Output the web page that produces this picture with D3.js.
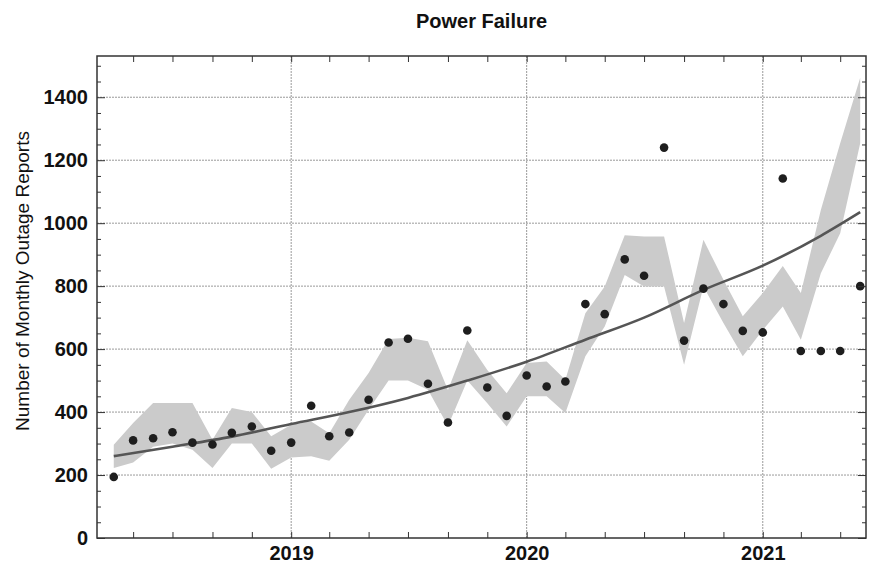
<!DOCTYPE html>
<html>
<head>
<meta charset="utf-8">
<script src="https://cdn.jsdelivr.net/npm/d3@7"></script>
<style>
  body { margin: 0; background: #fff; }
  text { font-family: "Liberation Sans", Arial, sans-serif; }
</style>
</head>
<body>
<div id="my_dataviz"></div>
<script>

// monthly report counts
var months = ["2018-04", "2018-05", "2018-06", "2018-07", "2018-08", "2018-09", "2018-10", "2018-11", "2018-12",
  "2019-01", "2019-02", "2019-03", "2019-04", "2019-05", "2019-06", "2019-07", "2019-08", "2019-09", "2019-10", "2019-11", "2019-12",
  "2020-01", "2020-02", "2020-03", "2020-04", "2020-05", "2020-06", "2020-07", "2020-08", "2020-09", "2020-10", "2020-11", "2020-12",
  "2021-01", "2021-02", "2021-03", "2021-04", "2021-05", "2021-06"];
var reports = [194, 310, 317, 336, 303, 297, 334, 354, 277,
  303, 420, 323, 335, 439, 621, 633, 490, 367, 659, 478, 388,
  516, 481, 497, 743, 711, 885, 833, 1240, 627, 792, 743, 658,
  653, 1142, 594, 594, 594, 800];

// shaded band, upper and lower edge per month
var bandUpper = [296, 365, 429, 429, 429, 312, 413, 400, 323,
  360, 370, 333, 439, 524, 632, 636, 625, 470, 628, 534, 460,
  556, 561, 503, 714, 799, 962, 958, 958, 683, 947, 820, 704,
  778, 864, 778, 1042, 1254, 1462];
var bandLower = [222, 240, 290, 300, 280, 222, 300, 300, 220,
  256, 260, 245, 312, 407, 500, 500, 471, 356, 500, 428, 354,
  450, 450, 397, 577, 672, 835, 799, 799, 550, 799, 683, 577,
  661, 735, 630, 841, 968, 1254];

// fitted trend, read at a few dates
var trendMonths = ["2018-04", "2018-07", "2018-10", "2019-01", "2019-04", "2019-07", "2019-10",
  "2020-01", "2020-04", "2020-07", "2020-10", "2021-01", "2021-04", "2021-06"];
var trendValues = [260, 290, 322, 362, 400, 445, 500, 560, 630, 700, 788, 865, 960, 1035];

var yTicks = [0, 200, 400, 600, 800, 1000, 1200, 1400];
var xYears = ["2019", "2020", "2021"];

var W = 870, H = 563;
var margin = { top: 56, right: 4, bottom: 25, left: 97 },
  width = W - margin.left - margin.right,
  height = H - margin.top - margin.bottom;

var parseM = d3.timeParse("%Y-%m");
var parseY = d3.timeParse("%Y");

var svg = d3.select("#my_dataviz")
  .append("svg")
  .attr("width", W)
  .attr("height", H);

var g = svg.append("g")
  .attr("transform", "translate(" + margin.left + "," + margin.top + ")");

var x = d3.scaleTime()
  .domain([new Date(2018, 2, 6), new Date(2021, 5, 10)])
  .range([0, width]);
var y = d3.scaleLinear()
  .domain([0, 1531])
  .range([height, 0]);

var monthTicks = d3.timeMonth.every(2).range(x.domain()[0], x.domain()[1]);
var minorY = d3.range(50, 1531, 50).filter(function (v) { return v % 200 != 0; });
var yearDates = xYears.map(parseY);

// grid
g.append("g").selectAll("line")
  .data(yTicks.slice(1))
  .enter().append("line")
  .attr("x1", 0).attr("x2", width)
  .attr("y1", function (d) { return y(d); })
  .attr("y2", function (d) { return y(d); })
  .attr("stroke", "#9a9a9a")
  .attr("stroke-width", 1)
  .attr("stroke-dasharray", "2,1");
g.append("g").selectAll("line")
  .data(yearDates)
  .enter().append("line")
  .attr("y1", 0).attr("y2", height)
  .attr("x1", function (d) { return x(d); })
  .attr("x2", function (d) { return x(d); })
  .attr("stroke", "#9a9a9a")
  .attr("stroke-width", 1)
  .attr("stroke-dasharray", "2,1");

// band
var band = months.map(function (m, i) {
  return { date: parseM(m), hi: bandUpper[i], lo: bandLower[i] };
});
g.append("path")
  .datum(band)
  .attr("fill", "#cbcbcb")
  .attr("d", d3.area()
    .x(function (d) { return x(d.date); })
    .y0(function (d) { return y(d.lo); })
    .y1(function (d) { return y(d.hi); }));

// trend
var trend = trendMonths.map(function (m, i) {
  return { date: parseM(m), v: trendValues[i] };
});
g.append("path")
  .datum(trend)
  .attr("fill", "none")
  .attr("stroke", "#555")
  .attr("stroke-width", 2.6)
  .attr("d", d3.line()
    .curve(d3.curveMonotoneX)
    .x(function (d) { return x(d.date); })
    .y(function (d) { return y(d.v); }));

// points
g.append("g").selectAll("circle")
  .data(months.map(function (m, i) { return { date: parseM(m), v: reports[i] }; }))
  .enter().append("circle")
  .attr("cx", function (d) { return x(d.date); })
  .attr("cy", function (d) { return y(d.v); })
  .attr("r", 4.3)
  .attr("fill", "#1e1e1e");

// axes, ticks inward on all four sides
function clean(sel) {
  sel.select(".domain").remove();
  sel.selectAll(".tick line").attr("stroke", "#333");
}
g.append("g")
  .attr("transform", "translate(0," + height + ")")
  .call(d3.axisBottom(x).tickValues(monthTicks).tickSize(-6).tickFormat(""))
  .call(clean);
g.append("g")
  .call(d3.axisTop(x).tickValues(monthTicks).tickSize(-6).tickFormat(""))
  .call(clean);
var xLab = g.append("g")
  .attr("transform", "translate(0," + height + ")")
  .call(d3.axisBottom(x).tickValues(yearDates).tickSize(0).tickPadding(8).tickFormat(d3.timeFormat("%Y")))
  .call(clean);
xLab.selectAll("text")
  .attr("font-size", 20).attr("font-weight", "bold").attr("fill", "#111")
  .attr("font-family", "Liberation Sans, Arial, sans-serif");

var yAx = g.append("g")
  .call(d3.axisLeft(y).tickValues(yTicks).tickSize(-8).tickPadding(9).tickFormat(d3.format("d")))
  .call(clean);
yAx.selectAll("text")
  .attr("font-size", 20).attr("font-weight", "bold").attr("fill", "#111")
  .attr("font-family", "Liberation Sans, Arial, sans-serif");
g.append("g")
  .call(d3.axisLeft(y).tickValues(minorY).tickSize(-4).tickFormat(""))
  .call(clean);
g.append("g")
  .attr("transform", "translate(" + width + ",0)")
  .call(d3.axisRight(y).tickValues(yTicks).tickSize(-8).tickFormat(""))
  .call(clean);
g.append("g")
  .attr("transform", "translate(" + width + ",0)")
  .call(d3.axisRight(y).tickValues(minorY).tickSize(-4).tickFormat(""))
  .call(clean);

// frame
g.append("rect")
  .attr("width", width)
  .attr("height", height)
  .attr("fill", "none")
  .attr("stroke", "#333")
  .attr("stroke-width", 1.5);

// title and y label
svg.append("text")
  .attr("x", margin.left + width / 2)
  .attr("y", 28)
  .attr("text-anchor", "middle")
  .attr("font-size", 20)
  .attr("font-weight", "bold")
  .attr("fill", "#111")
  .text("Power Failure");

svg.append("text")
  .attr("transform", "translate(29," + 281 + ") rotate(-90)")
  .attr("text-anchor", "middle")
  .attr("font-size", 19)
  .attr("fill", "#111")
  .text("Number of Monthly Outage Reports");

</script>
</body>
</html>
